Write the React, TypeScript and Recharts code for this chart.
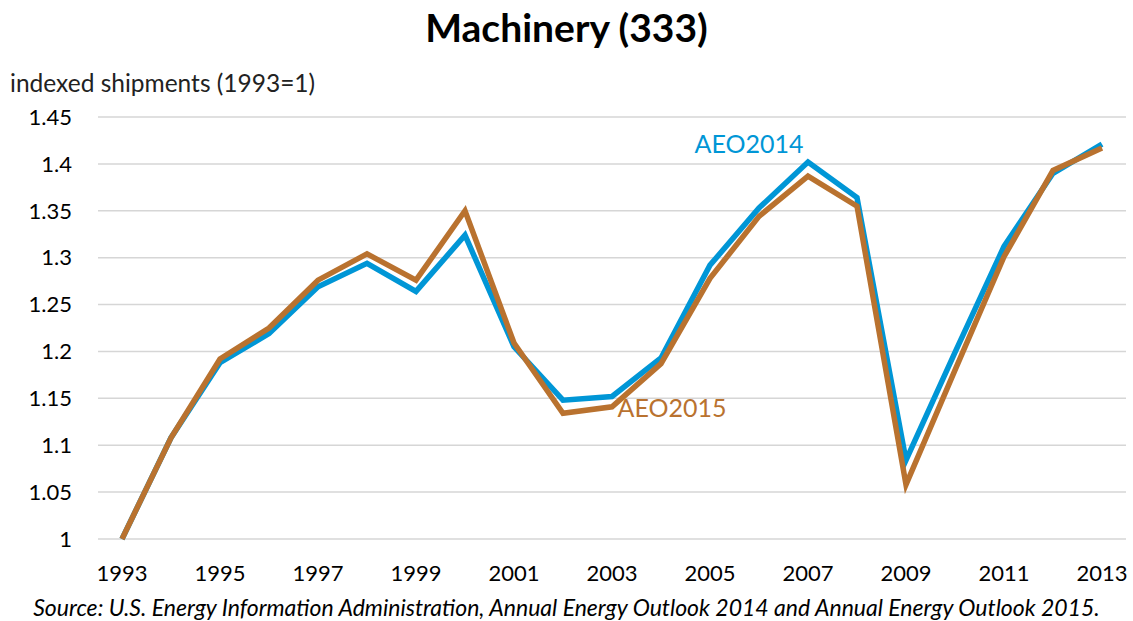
import React from 'react';
import { LineChart, Line, XAxis, YAxis, CartesianGrid, LabelList } from 'recharts';

const years = [1993, 1994, 1995, 1996, 1997, 1998, 1999, 2000, 2001, 2002, 2003, 2004, 2005, 2006, 2007, 2008, 2009, 2010, 2011, 2012, 2013];
const aeo2014 = [1.0, 1.108, 1.188, 1.219, 1.269, 1.294, 1.264, 1.324, 1.205, 1.148, 1.152, 1.193, 1.292, 1.353, 1.402, 1.364, 1.084, 1.199, 1.312, 1.39, 1.421];
const aeo2015 = [1.0, 1.108, 1.192, 1.225, 1.276, 1.304, 1.276, 1.35, 1.209, 1.134, 1.141, 1.187, 1.278, 1.344, 1.387, 1.355, 1.058, 1.18, 1.301, 1.393, 1.417];
const yTicks = [1, 1.05, 1.1, 1.15, 1.2, 1.25, 1.3, 1.35, 1.4, 1.45];
const xTicks = [1993, 1995, 1997, 1999, 2001, 2003, 2005, 2007, 2009, 2011, 2013];

const BLUE = '#0096d6';
const ORANGE = '#b9722f';
const FONT = 'Lato, "Open Sans", sans-serif';

const data = years.map((y, i) => ({ year: y, aeo2014: aeo2014[i], aeo2015: aeo2015[i] }));

// series name placed next to one chosen point
const seriesLabel = (text: string, atIndex: number, dx: number, dy: number, color: string) => (props: any) => {
    if (props.index !== atIndex) return null;
    return (
        <text x={props.x + dx} y={props.y + dy} fill={color} fontSize={25} fontFamily={FONT} textAnchor="middle" dominantBaseline="central">
            {text}
        </text>
    );
};

export default function App() {
    return (
        <div style={{ position: 'absolute', left: 0, top: 0, width: 1133, height: 621, background: '#fff', fontFamily: FONT }}>
            <div style={{ position: 'absolute', left: 0, width: 1133, top: 4, lineHeight: '46px', textAlign: 'center', fontSize: 39, fontWeight: 700, color: '#000' }}>
                Machinery (333)
            </div>
            <div style={{ position: 'absolute', left: 10, top: 68, lineHeight: '30px', fontSize: 24.5, color: '#222' }}>
                indexed shipments (1993=1)
            </div>
            <LineChart width={1133} height={621} data={data} margin={{ top: 117, right: 7, bottom: 42, left: 0 }}>
                <CartesianGrid vertical={false} stroke="#d6d6d6" strokeWidth={1.5} />
                <XAxis
                    dataKey="year"
                    ticks={xTicks}
                    interval={0}
                    padding={{ left: 24, right: 24 }}
                    axisLine={false}
                    tickLine={false}
                    tickSize={6}
                    tickMargin={20}
                    height={40}
                    tick={{ fill: '#000', fontSize: 22, fontFamily: FONT }}
                />
                <YAxis
                    domain={[1, 1.45]}
                    ticks={yTicks}
                    width={98}
                    axisLine={false}
                    tickLine={false}
                    tickSize={6}
                    tickMargin={20}
                    tick={{ fill: '#000', fontSize: 22, fontFamily: FONT }}
                />
                <Line dataKey="aeo2014" stroke={BLUE} strokeWidth={5.5} dot={false} isAnimationActive={false} strokeLinejoin="miter">
                    <LabelList dataKey="aeo2014" content={seriesLabel('AEO2014', 14, -59, -19, BLUE)} />
                </Line>
                <Line dataKey="aeo2015" stroke={ORANGE} strokeWidth={5.5} dot={false} isAnimationActive={false} strokeLinejoin="miter">
                    <LabelList dataKey="aeo2015" content={seriesLabel('AEO2015', 10, 60, 0, ORANGE)} />
                </Line>
            </LineChart>
            <div style={{ position: 'absolute', left: 0, width: 1133, top: 593, lineHeight: '28px', textAlign: 'center', fontSize: 23, fontStyle: 'italic', color: '#000' }}>
                Source: U.S. Energy Information Administration, Annual Energy Outlook 2014 and Annual Energy Outlook 2015.
            </div>
        </div>
    );
}
